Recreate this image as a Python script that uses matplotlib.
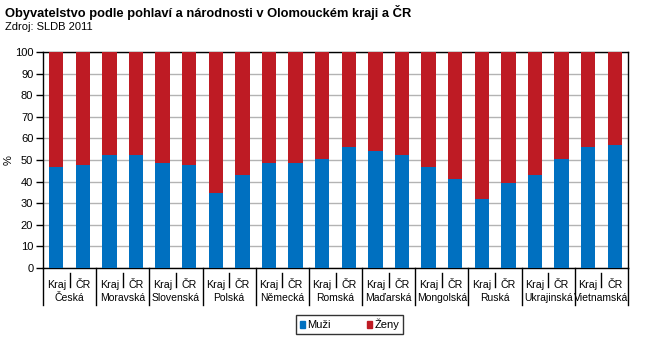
import matplotlib.pyplot as plt
from matplotlib.lines import Line2D
from matplotlib.patches import Patch
import matplotlib.transforms as mtransforms
import numpy as np

plt.rcParams['font.family'] = ['Liberation Sans', 'DejaVu Sans']

narodnosti = ['Česká', 'Moravská', 'Slovenská', 'Polská', 'Německá', 'Romská',
              'Maďarská', 'Mongolská', 'Ruská', 'Ukrajinská', 'Vietnamská']
oblasti = ['Kraj', 'ČR']

# podil muzu v % (Kraj, CR) pro kazdou narodnost
muzi = [46.9, 47.5,
        52.1, 52.1,
        48.4, 47.8,
        34.5, 42.9,
        48.7, 48.7,
        50.3, 55.8,
        54.3, 52.4,
        46.6, 41.3,
        31.8, 39.5,
        42.9, 50.3,
        55.8, 56.8]
zeny = [100 - m for m in muzi]

blue = '#0070C0'
red = '#BE1B24'

W, H = 652, 351
fig = plt.figure(figsize=(W / 100, H / 100), dpi=100)
ax = fig.add_axes([43 / W, (H - 268) / H, 585 / W, 216 / H])

x = np.arange(len(muzi))
ax.bar(x, muzi, width=0.54, color=blue, zorder=3)
ax.bar(x, zeny, width=0.54, bottom=muzi, color=red, zorder=3)

ax.set_xlim(-0.5, len(muzi) - 0.5)
ax.set_ylim(0, 100)
ax.set_yticks(range(0, 101, 10))
ax.yaxis.grid(True, color='#B3B3B3', linewidth=1, zorder=0)
ax.tick_params(axis='y', direction='out', length=5, width=1, labelsize=8, pad=2)
ax.tick_params(axis='x', bottom=False, labelbottom=False)
for s in ax.spines.values():
    s.set_color('black')
    s.set_linewidth(1)

fig.text(9 / W, 1 - 160 / H, '%', rotation=90, fontsize=8, ha='center', va='center')

# dvouurovnove popisky kategorii
trans = mtransforms.blended_transform_factory(ax.transData, ax.transAxes)
px = 1 / 216
for i in range(len(muzi)):
    ax.text(x[i], -17 * px, oblasti[i % 2], transform=trans, ha='center', va='center', fontsize=7.7)
for j, n in enumerate(narodnosti):
    ax.text(2 * j + 0.5, -30 * px, n, transform=trans, ha='center', va='center', fontsize=7.5)
    # kratka cara mezi Kraj a CR
    ax.add_line(Line2D([2 * j + 0.5, 2 * j + 0.5], [-5 * px, -19 * px], transform=trans,
                       color='black', linewidth=1, clip_on=False))
for k in range(len(narodnosti) + 1):
    ax.add_line(Line2D([2 * k - 0.5, 2 * k - 0.5], [0, -37 * px], transform=trans,
                       color='black', linewidth=1, clip_on=False))

fig.text(5 / W, 1 - 12 / H, 'Obyvatelstvo podle pohlaví a národnosti v Olomouckém kraji a ČR',
         fontsize=9.3, fontweight='bold', va='center', ha='left')
fig.text(5 / W, 1 - 27 / H, 'Zdroj: SLDB 2011', fontsize=8, va='center', ha='left')

handles = [Patch(color=blue, label='Muži'), Patch(color=red, label='Ženy')]
leg = fig.legend(handles=handles, loc='center', bbox_to_anchor=(349.5 / W, 1 - 324.7 / H),
                 ncol=2, fontsize=8, frameon=True, fancybox=False, handlelength=0.5,
                 handleheight=0.5, handletextpad=0.2, columnspacing=3.2, borderpad=0.35,
                 borderaxespad=0)
leg.get_frame().set_edgecolor('black')
leg.get_frame().set_linewidth(1)

fig.savefig('out.png', dpi=100)
